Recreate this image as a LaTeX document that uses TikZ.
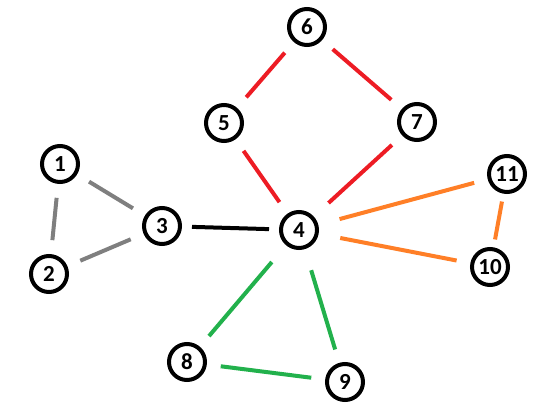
\documentclass[tikz,border=0pt]{standalone}
\usepackage{fontspec}
\setmainfont{Carlito}
\usetikzlibrary{arrows}

\definecolor{paintgray}{RGB}{127,127,127}
\definecolor{paintred}{RGB}{237,28,36}
\definecolor{paintorange}{RGB}{255,127,39}
\definecolor{paintgreen}{RGB}{34,177,76}

\begin{document}
\begin{tikzpicture}[x=1pt,y=-1pt]
\useasboundingbox (0,0) rectangle (548,406);
\begin{scope}[every node/.style={circle,draw,line width=4pt,minimum size=36pt,inner sep=0pt,font=\fontsize{23}{23}\selectfont\bfseries},
    link/.style={line width=4pt,shorten <=14pt,shorten >=14pt}]
    \node (n1) at (60,164) {1};
    \node (n2) at (49,274) {2};
    \node (n3) at (162,226) {3};
    \node (n4) at (299,230) {4};
    \node (n5) at (224,123) {5};
    \node (n6) at (307,27) {6};
    \node (n7) at (417,122) {7};
    \node (n8) at (187,362) {8};
    \node (n9) at (345,382) {9};
    \node (n10) at (490,267) {10};
    \node (n11) at (507,174) {11};
        \path [link,paintgray] (n1) edge (n3);
        \path [link,paintgray] (n1) edge (n2);
        \path [link,paintgray] (n2) edge (n3);
        \path [link,black,shorten <=10pt,shorten >=10pt] (n3) edge (n4);
        \path [link,paintred] (n5) edge (n6);
        \path [link,paintred] (n6) edge (n7);
        \path [link,paintred] (n5) edge (n4);
        \path [link,paintred,shorten >=20pt] (n7) edge (n4);
        \path [link,paintorange,shorten <=22pt] (n4) edge (n11);
        \path [link,paintorange,shorten <=22pt] (n4) edge (n10);
        \path [link,paintorange,shorten <=8pt,shorten >=8pt] (n10) edge (n11);
        \path [link,paintgreen,shorten <=22pt] (n4) edge (n8);
        \path [link,paintgreen,shorten <=22pt] (n4) edge (n9);
        \path [link,paintgreen] (n8) edge (n9);
\end{scope}
\end{tikzpicture}
\end{document}
